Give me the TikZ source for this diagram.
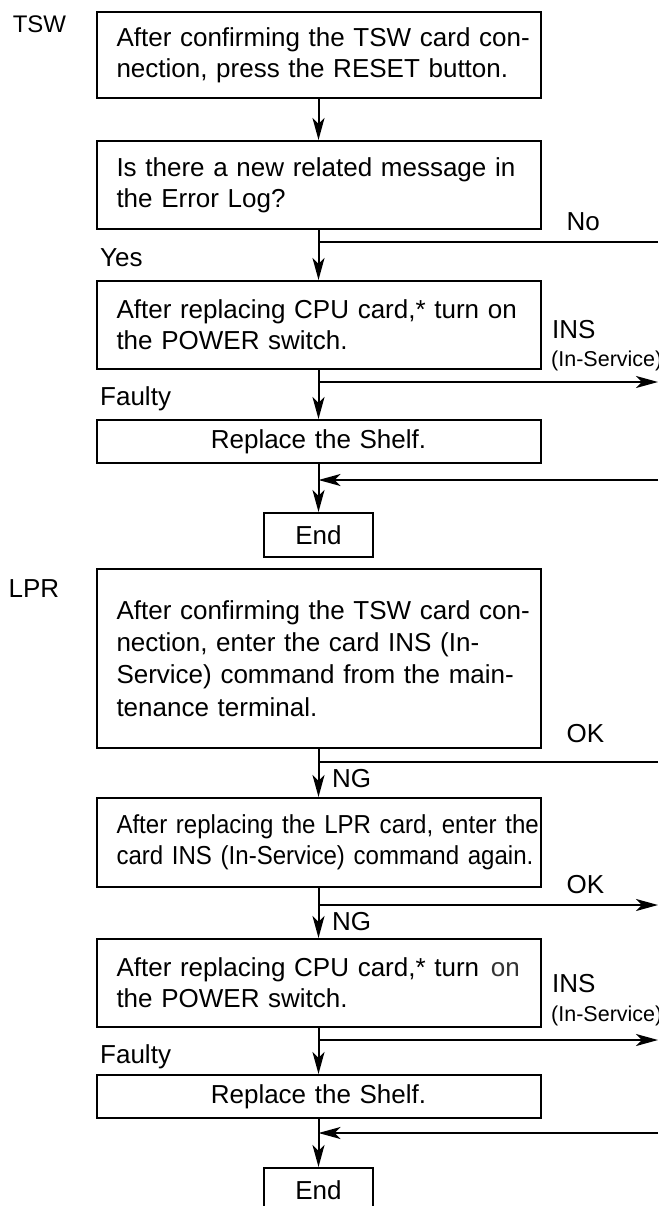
\documentclass[tikz,border=0pt]{standalone}
\usepackage{fontspec}
\setmainfont{Liberation Sans}
\newfontfamily\narrowfont[FakeStretch=0.925]{Liberation Sans}
\newcommand{\starmark}{*}
\usetikzlibrary{arrows.meta}
\begin{document}
\begin{tikzpicture}[x=1pt,y=-1pt,
  every node/.style={font=\fontsize{26}{31}\selectfont, inner sep=0pt},
  stepbox/.style={draw, line width=2pt, rectangle, minimum width=444pt,
    text width=404pt, align=left, inner xsep=20pt, inner ysep=0pt},
  endbox/.style={draw, line width=2pt, rectangle, minimum width=109pt,
    minimum height=44pt, align=center},
  lbl/.style={anchor=base west},
  small/.style={font=\fontsize{21.5}{25}\selectfont},
  conn/.style={line width=2pt},
  arr/.style={conn, -{Stealth[length=22pt,width=12pt,inset=6pt]}}]
\useasboundingbox (0,0) rectangle (658,1206);
\clip (0,0) rectangle (658,1206);

% ---------------- TSW ----------------
\node[lbl, font=\fontsize{24}{28}\selectfont] (tsw) at (12.6,33) {TSW};
\node[stepbox, minimum height=86.6pt] (t1) at (318.5,55)
  {\mbox{After confirming the TSW card con-}\\\mbox{nection, press the RESET button.}};
\node[stepbox, minimum height=88.5pt] (t2) at (318.5,185.25)
  {\mbox{Is there a new related message in}\\\mbox{the Error Log?}};
\node[stepbox, minimum height=88pt] (t3) at (318.5,325)
  {\mbox{After replacing CPU card,\starmark{} turn on}\\\mbox{the POWER switch.}};
\node[stepbox, minimum height=43pt, align=center] (t4) at (318.5,441.5)
  {Replace the Shelf.};
\node[endbox] (te) at (318.5,535) {End};

\node[lbl] (tno) at (566.5,231) {No};
\node[lbl] (tyes) at (100,266) {Yes};
\node[lbl] (tins) at (552,338) {INS};
\node[lbl, small] (tinss) at (551,366) {(In-Service)};
\node[lbl] (tfaulty) at (100,405) {Faulty};

\coordinate (tj1) at (318.5,242);
\coordinate (tx1) at (658,242);
\coordinate (tj2) at (318.5,382);
\coordinate (tx2) at (658,382);
\coordinate (tr) at (658,480);
\coordinate (tk) at (318.5,480);

\draw[arr] (t1) -- (t2);
\draw[arr] (t2) -- (t3);
\draw[conn] (tj1) -- (tx1);
\draw[arr] (t3) -- (t4);
\draw[arr] (tj2) -- (tx2);
\draw[arr] (t4) -- (te);
\draw[arr] (tr) -- (tk);

% ---------------- LPR ----------------
\node[lbl] (lpr) at (8.4,597) {LPR};
\node[stepbox, minimum height=179pt, font=\fontsize{26}{32.3}\selectfont] (l1) at (318.5,658.5)
  {\mbox{After confirming the TSW card con-}\\\mbox{nection, enter the card INS (In-}\\\mbox{Service) command from the main-}\\\mbox{tenance terminal.}};
\node[stepbox, minimum height=89pt, font=\narrowfont\fontsize{26}{31}\selectfont] (l2) at (318.5,842.5)
  {\mbox{After replacing the LPR card, enter the}\\\mbox{card INS (In-Service) command again.}};
\node[stepbox, minimum height=88pt] (l3) at (318.5,983)
  {\mbox{After replacing CPU card,\starmark{} turn\hspace{3pt} {\color{black!80}on}}\\\mbox{the POWER switch.}};
\node[stepbox, minimum height=43pt, align=center] (l4) at (318.5,1096.5)
  {Replace the Shelf.};
\node[endbox] (le) at (318.5,1190) {End};

\node[lbl] (lok1) at (566.5,742) {OK};
\node[lbl] (lng1) at (332,787) {NG};
\node[lbl] (lok2) at (566.5,893) {OK};
\node[lbl] (lng2) at (332,930) {NG};
\node[lbl] (lins) at (552,992) {INS};
\node[lbl, small] (linss) at (551,1021) {(In-Service)};
\node[lbl] (lfaulty) at (100,1063) {Faulty};

\coordinate (lj1) at (318.5,762);
\coordinate (lx1) at (658,762);
\coordinate (lj2) at (318.5,905);
\coordinate (lx2) at (658,905);
\coordinate (lj3) at (318.5,1040);
\coordinate (lx3) at (658,1040);
\coordinate (lr) at (658,1133);
\coordinate (lk) at (318.5,1133);

\draw[arr] (l1) -- (l2);
\draw[conn] (lj1) -- (lx1);
\draw[arr] (l2) -- (l3);
\draw[arr] (lj2) -- (lx2);
\draw[arr] (l3) -- (l4);
\draw[arr] (lj3) -- (lx3);
\draw[arr] (l4) -- (le);
\draw[arr] (lr) -- (lk);
\end{tikzpicture}
\end{document}
